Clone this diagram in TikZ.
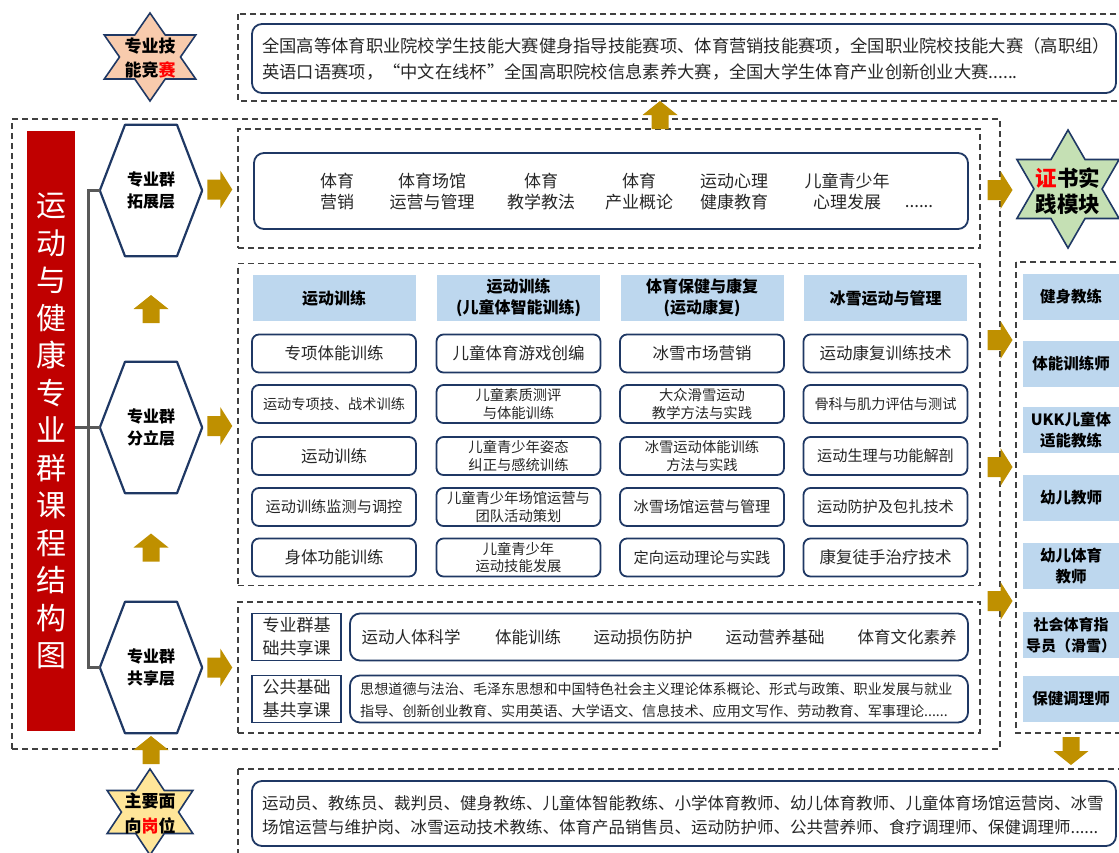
\documentclass[tikz,border=0pt]{standalone}
\usepackage{fontspec}
\setmainfont{Noto Sans CJK SC}
\usetikzlibrary{calc}
\definecolor{navy}{HTML}{1F3864}
\definecolor{gold}{HTML}{BF9000}
\definecolor{lblue}{HTML}{BDD7EE}
\definecolor{darkred}{HTML}{C00000}
\definecolor{dgray}{HTML}{404040}
\definecolor{brkgray}{HTML}{595959}
\definecolor{txt}{HTML}{262626}
\definecolor{peach}{HTML}{F8CBAD}
\definecolor{sgreen}{HTML}{C5E0B4}
\definecolor{syellow}{HTML}{FFE699}
\definecolor{hotred}{HTML}{FF0000}
\newcommand\fsz[2]{\fontsize{#1pt}{#2pt}\selectfont}
\newcommand\hexstar[4]{%
  \begin{scope}[shift={#1},xscale=#3]
  \filldraw[starline,fill=#4] (0,-#2) -- ({0.2887*#2},{-0.5*#2}) -- ({0.866*#2},{-0.5*#2}) -- ({0.5774*#2},0) -- ({0.866*#2},{0.5*#2}) -- ({0.2887*#2},{0.5*#2}) -- (0,#2) -- ({-0.2887*#2},{0.5*#2}) -- ({-0.866*#2},{0.5*#2}) -- ({-0.5774*#2},0) -- ({-0.866*#2},{-0.5*#2}) -- ({-0.2887*#2},{-0.5*#2}) -- cycle;
  \end{scope}}
\newcommand\hexa[4]{%
  \node[hextext] (#1) at (#2,#3) {#4};
  \draw[hexline] (#1.west) -- ([xshift=-26pt]#1.north) -- ([xshift=26pt]#1.north) -- (#1.east) -- ([xshift=26pt]#1.south) -- ([xshift=-26pt]#1.south) -- cycle;}
\tikzset{
  dbox/.style={draw=dgray,line width=1.3pt,dash pattern=on 6pt off 4pt,inner sep=0pt},
  rbox/.style={draw=navy,line width=1.8pt,rounded corners=10pt,inner sep=0pt},
  course/.style={draw=navy,line width=1.8pt,rounded corners=7pt,minimum width=164pt,minimum height=38pt,inner sep=0pt,align=center,text=txt,font=\fsz{16.5}{20}},
  fa/.style={font=\fsz{15.2}{18}},
  fb/.style={font=\fsz{14.2}{17}},
  two/.style={font=\fsz{14.3}{17.5}},
  head/.style={fill=lblue,minimum width=163pt,minimum height=46pt,inner sep=0pt,align=center,font=\fsz{16}{21}\bfseries},
  cell/.style={fill=lblue,minimum width=96pt,minimum height=46pt,inner sep=0pt,align=center,font=\fsz{15.5}{21}\bfseries},
  lab/.style={draw=navy,line width=1.8pt,minimum width=89pt,minimum height=47pt,inner sep=0pt,align=center,text=txt,font=\fsz{17}{23}},
  hextext/.style={minimum width=102pt,minimum height=131pt,inner sep=0pt,align=center,font=\fsz{16}{22}\bfseries},
  hexline/.style={draw=navy,line width=2.2pt,line join=round},
  starline/.style={draw=navy,line width=1.6pt,line join=miter},
  startext/.style={align=center,inner sep=0pt,font=\fsz{17}{24}\bfseries},
  brk/.style={draw=brkgray,line width=3pt},
  plain/.style={align=center,inner sep=0pt,text=txt,font=\fsz{17}{21}},
  pics/rarr/.style={code={\fill[gold] (-12.5,-10) -- (0.5,-10) -- (0.5,-19) -- (12.5,0) -- (0.5,19) -- (0.5,10) -- (-12.5,10) -- cycle;}},
  pics/uarr/.style={code={\fill[gold] (-8.5,14) -- (-8.5,0) -- (-17.5,0) -- (0,-14) -- (17.5,0) -- (8.5,0) -- (8.5,14) -- cycle;}},
  pics/darr/.style={code={\fill[gold] (-8.5,-14) -- (-8.5,0) -- (-17.5,0) -- (0,14) -- (17.5,0) -- (8.5,0) -- (8.5,-14) -- cycle;}},
}
\begin{document}
\begin{tikzpicture}[x=1pt,y=-1pt]
\useasboundingbox (0,0) rectangle (1119,852);
\clip (0,0) rectangle (1119,852);

% dashed frames
\node[dbox,minimum width=988pt,minimum height=630pt] (outer) at (506,434) {};
\draw[dbox] (238,14) rectangle (1135,101);
\node[dbox,minimum width=742pt,minimum height=119pt] (extbox) at (609,188.5) {};
\node[dbox,minimum width=742pt,minimum height=322pt] (splitbox) at (609,424.5) {};
\node[dbox,minimum width=742pt,minimum height=131pt] (sharebox) at (609,667.5) {};
\draw[dbox] (1016,262) rectangle (1135,733);
\draw[dbox] (238,769) rectangle (1135,880);

% top competition box
\node[rbox,minimum width=864pt,minimum height=69pt] (topbox) at (684,58.5) {};
\node[plain,anchor=west,align=left,font=\fsz{17.3}{26}] (toptext) at (262,59) {全国高等体育职业院校学生技能大赛健身指导技能赛项、体育营销技能赛项，全国职业院校技能大赛（高职组）\\英语口语赛项，“中文在线杯”全国高职院校信息素养大赛，全国大学生体育产业创新创业大赛......};

% extension layer
\node[rbox,minimum width=714pt,minimum height=76pt] (extin) at (611,191) {};
\node[plain] (e1) at (337,191.5) {体育\\营销};
\node[plain] (e2) at (432,191.5) {体育场馆\\运营与管理};
\node[plain] (e3) at (541,191.5) {体育\\教学教法};
\node[plain] (e4) at (639,191.5) {体育\\产业概论};
\node[plain] (e5) at (734,191.5) {运动心理\\健康教育};
\node[plain] (e6) at (847,191.5) {儿童青少年\\心理发展};
\node[plain,anchor=base] (e7) at (919,207) {......};

% split layer headers
\node[head] (h1) at (334,298) {运动训练};
\node[head] (h2) at (518.5,298) {运动训练\\(儿童体智能训练)};
\node[head] (h3) at (702,298) {体育保健与康复\\(运动康复)};
\node[head] (h4) at (885.5,298) {冰雪运动与管理};

% column 1
\node[course] (c11) at (334,353.5) {专项体能训练};
\node[course,fb] (c12) at (334,404) {运动专项技、战术训练};
\node[course] (c13) at (334,456) {运动训练};
\node[course,fa] (c14) at (334,507) {运动训练监测与调控};
\node[course] (c15) at (334,557.5) {身体功能训练};
% column 2
\node[course] (c21) at (518.5,353.5) {儿童体育游戏创编};
\node[course,two] (c22) at (518.5,404) {儿童素质测评\\与体能训练};
\node[course,two] (c23) at (518.5,456) {儿童青少年姿态\\纠正与感统训练};
\node[course,two] (c24) at (518.5,507) {儿童青少年场馆运营与\\团队活动策划};
\node[course,two] (c25) at (518.5,557.5) {儿童青少年\\运动技能发展};
% column 3
\node[course] (c31) at (702,353.5) {冰雪市场营销};
\node[course,two] (c32) at (702,404) {大众滑雪运动\\教学方法与实践};
\node[course,two] (c33) at (702,456) {冰雪运动体能训练\\方法与实践};
\node[course,fa] (c34) at (702,507) {冰雪场馆运营与管理};
\node[course,fa] (c35) at (702,557.5) {定向运动理论与实践};
% column 4
\node[course] (c41) at (885.5,353.5) {运动康复训练技术};
\node[course,fb] (c42) at (885.5,404) {骨科与肌力评估与测试};
\node[course,fa] (c43) at (885.5,456) {运动生理与功能解剖};
\node[course,fa] (c44) at (885.5,507) {运动防护及包扎技术};
\node[course] (c45) at (885.5,557.5) {康复徒手治疗技术};

% shared layer
\node[lab] (l1) at (296.5,637) {专业群基\\础共享课};
\node[lab] (l2) at (296.5,699) {公共基础\\基共享课};
\node[rbox,minimum width=618pt,minimum height=47pt] (s1box) at (659,637) {};
\node[plain,font=\fsz{16.5}{20}] (p1) at (411,637) {运动人体科学};
\node[plain,font=\fsz{16.5}{20}] (p2) at (528,637) {体能训练};
\node[plain,font=\fsz{16.5}{20}] (p3) at (643,637) {运动损伤防护};
\node[plain,font=\fsz{16.5}{20}] (p4) at (775,637) {运动营养基础};
\node[plain,font=\fsz{16.5}{20}] (p5) at (907,637) {体育文化素养};
\node[rbox,minimum width=618pt,minimum height=47pt] (s2box) at (659,699) {};
\node[plain,anchor=west,align=left,font=\fsz{14.1}{22}] (pub) at (360,700) {思想道德与法治、毛泽东思想和中国特色社会主义理论体系概论、形式与政策、职业发展与就业\\指导、创新创业教育、实用英语、大学语文、信息技术、应用文写作、劳动教育、军事理论......};

% right certificates column
\node[cell] (r1) at (1071,297) {健身教练};
\node[cell] (r2) at (1071,364) {体能训练师};
\node[cell] (r3) at (1071,430) {UKK儿童体\\适能教练};
\node[cell] (r4) at (1071,498) {幼儿教师};
\node[cell] (r5) at (1071,566) {幼儿体育\\教师};
\node[cell,font=\fsz{15}{21}\bfseries] (r6) at (1071,635) {社会体育指\\导员（滑雪）};
\node[cell] (r7) at (1071,699) {保健调理师};

% bottom jobs box
\node[rbox,minimum width=864pt,minimum height=65pt] (botbox) at (684,813.5) {};
\node[plain,anchor=west,align=left,font=\fsz{16.5}{24}] (bottext) at (262,815) {运动员、教练员、裁判员、健身教练、儿童体智能教练、小学体育教师、幼儿体育教师、儿童体育场馆运营岗、冰雪\\场馆运营与维护岗、冰雪运动技术教练、体育产品销售员、运动防护师、公共营养师、食疗调理师、保健调理师......};

% title bar
\node[fill=darkred,minimum width=48pt,minimum height=600pt,inner sep=0pt,align=center,text=white,font=\fsz{30}{37.5}] (title) at (51,431) {运\\动\\与\\健\\康\\专\\业\\群\\课\\程\\结\\构\\图};

% hexagons
\hexa{hex1}{151}{190.5}{专业群\\拓展层}
\hexa{hex2}{151}{427.5}{专业群\\分立层}
\hexa{hex3}{151}{667.5}{专业群\\共享层}

% bracket
\coordinate (spine) at (88,0);
\draw[brk] (hex1.west) -- (hex1.west -| spine) -- (hex3.west -| spine) -- (hex3.west);
\draw[brk] (title.east |- hex2.west) -- (hex2.west);

% stars
\hexstar{(150,57)}{44}{1.2}{peach}
\node[startext] (st1) at (150,58) {专业技\\能竞{\color{hotred}赛}};
\hexstar{(1068,189)}{59}{1}{sgreen}
\node[startext,font=\fsz{21.5}{26}\bfseries] (st2) at (1068,191) {{\color{hotred}证}书实\\践模块};
\hexstar{(150,812)}{43}{1.15}{syellow}
\node[startext,font=\fsz{17}{25}\bfseries] (st3) at (150,813) {主要面\\向{\color{hotred}岗}位};

% block arrows
\pic at ($(hex1.east)!.5!(extbox.west)$) {rarr};
\pic at ($(hex2.east)!.5!(splitbox.west)$) {rarr};
\pic at ($(hex3.east)!.5!(sharebox.west)$) {rarr};
\pic at ($(hex1.south)!.5!(hex2.north)$) {uarr};
\pic at ($(hex2.south)!.5!(hex3.north)$) {uarr};
\pic at (151,750) {uarr};
\pic at (660,115) {uarr};
\pic at (1000,190) {rarr};
\pic at (1000,340) {rarr};
\pic at (1000,467) {rarr};
\pic at (1000,601) {rarr};
\pic at (1071,751) {darr};
\end{tikzpicture}
\end{document}
